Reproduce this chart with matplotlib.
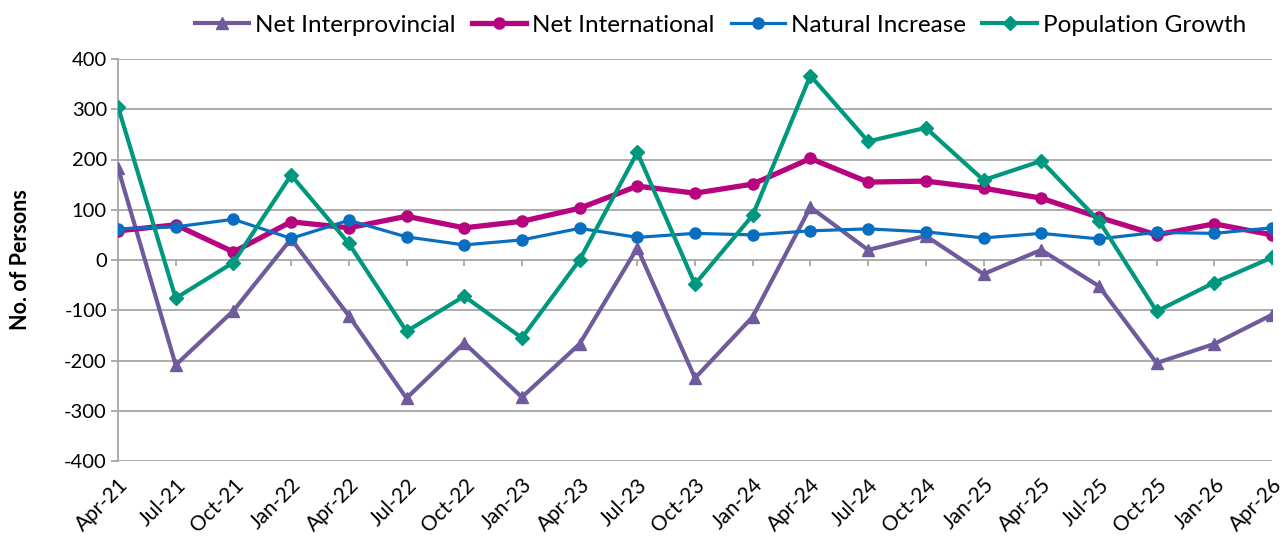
import matplotlib
matplotlib.use("Agg")
import matplotlib.pyplot as plt

plt.rcParams['font.family'] = ['Lato', 'DejaVu Sans']

categories = ["Apr-21", "Jul-21", "Oct-21", "Jan-22", "Apr-22", "Jul-22", "Oct-22",
              "Jan-23", "Apr-23", "Jul-23", "Oct-23", "Jan-24", "Apr-24", "Jul-24",
              "Oct-24", "Jan-25", "Apr-25", "Jul-25", "Oct-25", "Jan-26", "Apr-26"]
net_interprovincial = [183, -209, -101, 42, -111, -275, -165, -273, -167, 24, -235,
                       -113, 105, 20, 48, -28, 20, -52, -205, -167, -109]
net_international = [58, 70, 16, 76, 64, 87, 64, 77, 103, 147, 133,
                     151, 202, 155, 157, 143, 123, 85, 50, 72, 50]
natural_increase = [62, 66, 81, 43, 79, 46, 30, 40, 63, 45, 53,
                    50, 58, 62, 56, 44, 53, 42, 55, 53, 64]
population_growth = [305, -76, -5, 169, 33, -142, -72, -155, 0, 214, -48,
                     89, 367, 236, 263, 159, 197, 78, -102, -45, 5]
y_ticks = [-400, -300, -200, -100, 0, 100, 200, 300, 400]

fig = plt.figure(figsize=(12.84, 5.4), dpi=100)
ax = fig.add_axes([118/1284, 1-461/540, (1272-118)/1284, (461-59)/540])

x = list(range(len(categories)))
grid_c = "#A6A6A6"
for yv in y_ticks:
    ax.axhline(yv, color=grid_c, lw=1.3, zorder=1)

ax.plot(x, net_interprovincial, color="#6F5B9B", lw=3.0, marker="^", ms=8,
        label="Net Interprovincial", zorder=3)
ax.plot(x, net_international, color="#B8037F", lw=3.8, marker="o", ms=8,
        label="Net International", zorder=4)
ax.plot(x, natural_increase, color="#0A6EC0", lw=2.3, marker="o", ms=8,
        label="Natural Increase", zorder=5)
ax.plot(x, population_growth, color="#00977F", lw=3.0, marker="D", ms=7,
        label="Population Growth", zorder=6)

# category tick marks on the zero line
ax.vlines(x, -12, 0, color=grid_c, lw=1.3, zorder=1)

ax.set_xlim(0, 20)
ax.set_ylim(-400, 400)
ax.set_yticks(y_ticks)
ax.set_yticklabels([str(v) for v in y_ticks], fontsize=14.5)
ax.set_xticks(x)
ax.set_xticklabels(categories, rotation=45, ha="right", va="top",
                   rotation_mode="anchor", fontsize=15)
ax.tick_params(axis="x", length=0, pad=10)
ax.tick_params(axis="y", length=5, color=grid_c, width=1.3, pad=3)
for s in ["top", "right", "bottom"]:
    ax.spines[s].set_visible(False)
ax.spines["left"].set_color(grid_c)
ax.spines["left"].set_linewidth(1.3)
ax.set_ylabel("No. of Persons", fontsize=15.5, fontweight="bold", labelpad=24)

ax.legend(loc="upper center", bbox_to_anchor=(0.522, 1.165), ncol=4, frameon=False,
          fontsize=17.5, handlelength=2.25, columnspacing=0.65, handletextpad=0.25)

fig.savefig("out.png", dpi=100)
